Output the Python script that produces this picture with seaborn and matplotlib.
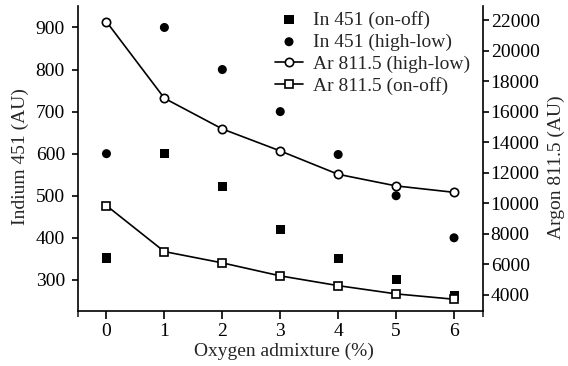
import matplotlib
matplotlib.use("Agg")
import matplotlib.pyplot as plt
import seaborn as sns
import pandas as pd

# ---- data ----
oxygen = [0, 1, 2, 3, 4, 5, 6]
in451_onoff = [352, 600, 523, 420, 350, 300, 262]
in451_highlow = [600, 900, 800, 700, 598, 500, 400]
ar811_highlow = [21890, 16880, 14870, 13430, 11900, 11140, 10720]
ar811_onoff = [9850, 6840, 6100, 5250, 4610, 4070, 3720]

x_ticks = [0, 1, 2, 3, 4, 5, 6]
left_ticks = [300, 400, 500, 600, 700, 800, 900]
right_ticks = [4000, 6000, 8000, 10000, 12000, 14000, 16000, 18000, 20000, 22000]

df = pd.DataFrame({
    "x": oxygen,
    "in_onoff": in451_onoff,
    "in_hl": in451_highlow,
    "ar_hl": ar811_highlow,
    "ar_onoff": ar811_onoff,
})

sns.set_theme(style="ticks")
plt.rcParams["font.family"] = ["Liberation Serif", "DejaVu Serif"]
FS = 14

fig = plt.figure(figsize=(5.68, 3.66), dpi=100)
AX_L, AX_R, AX_T, AX_B = 77.5, 483, 6, 311
ax1 = fig.add_axes([AX_L / 568, 1 - AX_B / 366, (AX_R - AX_L) / 568, (AX_B - AX_T) / 366])
ax2 = ax1.twinx()

ms = 6.5
sns.scatterplot(data=df, x="x", y="in_onoff", marker="s", color="black",
                s=ms ** 2, edgecolor="none", ax=ax1, label="In 451 (on-off)", legend=False)
sns.scatterplot(data=df, x="x", y="in_hl", marker="o", color="black",
                s=ms ** 2, edgecolor="none", ax=ax1, label="In 451 (high-low)", legend=False)
sns.lineplot(data=df, x="x", y="ar_hl", marker="o", color="black", lw=1.2,
             markersize=6, markerfacecolor="white", markeredgecolor="black",
             markeredgewidth=1.2, ax=ax2, label="Ar 811.5 (high-low)", legend=False)
sns.lineplot(data=df, x="x", y="ar_onoff", marker="s", color="black", lw=1.2,
             markersize=6, markerfacecolor="white", markeredgecolor="black",
             markeredgewidth=1.2, ax=ax2, label="Ar 811.5 (on-off)", legend=False)

ax1.set_xlim(-0.5, 6.5)
ax1.set_ylim(226, 951)
ax2.set_ylim(2950, 22920)
ax1.set_xticks(x_ticks)
ax1.set_xticks([-0.5, 6.5], minor=True)
ax1.set_yticks(left_ticks)
ax2.set_yticks(right_ticks)

for ax in (ax1, ax2):
    ax.spines["top"].set_visible(False)
    for s in ax.spines.values():
        s.set_linewidth(1.2)
        s.set_color("black")
ax1.spines["right"].set_visible(False)
ax2.spines["left"].set_visible(False)
ax2.spines["bottom"].set_visible(False)

ax1.tick_params(axis="x", which="major", direction="out", length=6, width=1.2,
                labelsize=FS, pad=2.5, colors="black")
ax1.tick_params(axis="x", which="minor", direction="out", length=4, width=1.2)
ax1.tick_params(axis="y", direction="out", length=4, width=1.2, labelsize=FS, pad=5,
                colors="black")
ax2.tick_params(axis="y", direction="out", length=4, width=1.2, labelsize=FS, pad=1.5,
                colors="black")

ax1.set_xlabel("Oxygen admixture (%)", fontsize=FS)
ax1.set_ylabel("Indium 451 (AU)", fontsize=FS)
ax2.set_ylabel("Argon 811.5 (AU)", fontsize=FS)
ax1.xaxis.set_label_coords((284 - AX_L) / (AX_R - AX_L), (AX_B - 343) / (AX_B - AX_T))
ax1.yaxis.set_label_coords((29 - AX_L) / (AX_R - AX_L), (AX_B - 156.5) / (AX_B - AX_T))
ax2.yaxis.set_label_coords((548 - AX_L) / (AX_R - AX_L), (AX_B - 166.7) / (AX_B - AX_T))

h1, l1 = ax1.get_legend_handles_labels()
h2, l2 = ax2.get_legend_handles_labels()
leg = ax2.legend(h1 + h2, l1 + l2, loc="upper left", frameon=False,
                 bbox_to_anchor=(275 / 568, 1 - 11 / 366), bbox_transform=fig.transFigure,
                 borderpad=0, borderaxespad=0, handlelength=1.44, handletextpad=0.5,
                 labelspacing=0.22, fontsize=FS)

fig.savefig("out.png", dpi=100)
